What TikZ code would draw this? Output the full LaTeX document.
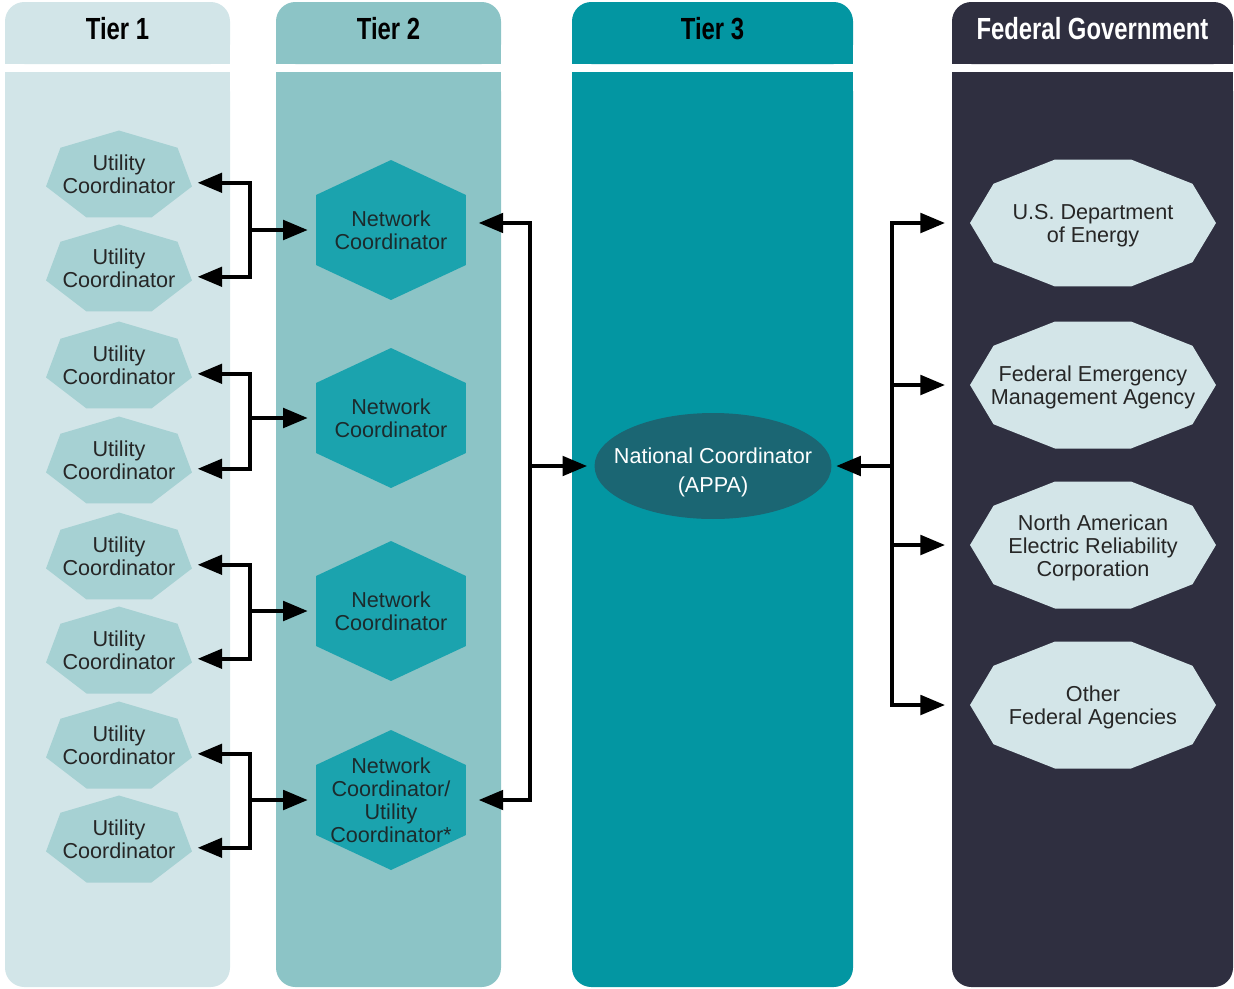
\documentclass[tikz,border=0pt]{standalone}
\usepackage{fontspec}
\setmainfont{Liberation Sans}
\newfontfamily\headfont[FakeStretch=0.78]{Liberation Sans}
\usetikzlibrary{arrows.meta,calc}

\definecolor{tieronebg}{HTML}{D2E5E8}
\definecolor{tiertwobg}{HTML}{8CC4C6}
\definecolor{tierthreebg}{HTML}{0396A2}
\definecolor{fedbg}{HTML}{2F2F40}
\definecolor{utilfill}{HTML}{A6D1D3}
\definecolor{netfill}{HTML}{1BA3AE}
\definecolor{natfill}{HTML}{1B6673}
\definecolor{agencyfill}{HTML}{D3E5E8}
\definecolor{textgrey}{HTML}{262626}
\definecolor{nettext}{HTML}{1B2B2D}

\tikzset{
  colhead/.style={font=\headfont\bfseries\fontsize{17.4}{20}\selectfont, inner sep=0pt},
  unitbox/.style={font=\fontsize{12.3}{13}\selectfont, align=center, inner sep=0pt},
  utility/.style={unitbox, text=textgrey, minimum width=2.92cm, minimum height=1.74cm,
    path picture={\coordinate (pc) at (path picture bounding box.center);
      \fill[utilfill] ($(pc)+(0,0.87cm)$)
        \foreach \k in {1,...,6} { -- ($(pc)+({1.4974cm*cos(90+\k*360/7)},{0.9153cm*(sin(90+\k*360/7)-0.0495)})$) } -- cycle;}},
  network/.style={unitbox, text=nettext, minimum width=3cm, minimum height=2.8cm,
    path picture={\coordinate (pc) at (path picture bounding box.center);
      \fill[netfill] ($(pc)+(0,1.4cm)$)
        \foreach \k in {1,...,5} { -- ($(pc)+({1.7321cm*cos(90+\k*60)},{1.4cm*sin(90+\k*60)})$) } -- cycle;}},
  agency/.style={unitbox, text=textgrey, minimum width=4.92cm, minimum height=2.54cm,
    path picture={\coordinate (pc) at (path picture bounding box.center);
      \fill[agencyfill] ($(pc)+(2.46cm,0)$)
        \foreach \k in {1,...,9} { -- ($(pc)+({2.46cm*cos(\k*36)},{1.3354cm*sin(\k*36)})$) } -- cycle;}},
  national/.style={unitbox, font=\fontsize{12.3}{16.5}\selectfont, text=white, minimum width=4.74cm, minimum height=2.12cm,
    path picture={\fill[natfill] (path picture bounding box.center) ellipse [x radius=2.37cm, y radius=1.06cm];}},
  link/.style={line width=2.3pt, -{Triangle[length=14pt,width=11pt]}},
  twolink/.style={line width=2.3pt, {Triangle[length=14pt,width=11pt]}-{Triangle[length=14pt,width=11pt]}},
}

\begin{document}
\begin{tikzpicture}[x=0.02cm, y=-0.02cm]
  \useasboundingbox (0,0) rectangle (1234,988);
  % Columns
  \foreach \xa/\xb/\col in {5/230/tieronebg, 276/501/tiertwobg, 572/853/tierthreebg, 952/1233/fedbg} {
    \fill[\col, rounded corners=11pt] (\xa,2) rectangle (\xb,64);
    \fill[\col] (\xa,40) rectangle (\xb,64);
    \fill[\col, rounded corners=11pt] (\xa,72) rectangle (\xb,987);
    \fill[\col] (\xa,72) rectangle (\xb,110);
  }
  \node[colhead] (h1) at (117.5,29) {Tier 1};
  \node[colhead] (h2) at (388.5,29) {Tier 2};
  \node[colhead] (h3) at (712.5,29) {Tier 3};
  \node[colhead, text=white] (h4) at (1092.5,29) {Federal Government};

  % Tier 1
  \node[utility] (u1) at (119,174) {Utility\\Coordinator};
  \node[utility] (u2) at (119,268) {Utility\\Coordinator};
  \node[utility] (u3) at (119,365) {Utility\\Coordinator};
  \node[utility] (u4) at (119,460) {Utility\\Coordinator};
  \node[utility] (u5) at (119,556) {Utility\\Coordinator};
  \node[utility] (u6) at (119,650) {Utility\\Coordinator};
  \node[utility] (u7) at (119,745) {Utility\\Coordinator};
  \node[utility] (u8) at (119,839) {Utility\\Coordinator};

  % Tier 2
  \node[network] (n1) at (391,230) {Network\\Coordinator};
  \node[network] (n2) at (391,418) {Network\\Coordinator};
  \node[network] (n3) at (391,611) {Network\\Coordinator};
  \node[network] (n4) at (391,800) {Network\\Coordinator/\\Utility\\Coordinator*};

  % Tier 3
  \node[national] (nat) at (713,466) {\rule{0pt}{16pt}National Coordinator\\(APPA)};

  % Federal
  \node[agency] (f1) at (1093,223) {\rule{0pt}{12pt}U.S. Department\\of Energy};
  \node[agency] (f2) at (1093,385) {\rule{0pt}{12pt}Federal Emergency\\Management Agency};
  \node[agency] (f3) at (1093,545) {\rule{0pt}{12pt}North American\\Electric Reliability\\Corporation};
  \node[agency] (f4) at (1093,705) {\rule{0pt}{12pt}Other\\Federal Agencies};

  % Forks
  \coordinate (j1) at (250,230);
  \coordinate (j2) at (250,418);
  \coordinate (j3) at (250,611);
  \coordinate (j4) at (250,800);
  \coordinate (j5) at (530,466);
  \coordinate (j6) at (892,466);

  \draw[twolink, shorten <=3pt, shorten >=3pt] ([yshift=-5pt]u1.east) -| (j1) |- ([yshift=-5pt]u2.east);
  \draw[twolink, shorten <=3pt, shorten >=3pt] ([yshift=-5pt]u3.east) -| (j2) |- ([yshift=-5pt]u4.east);
  \draw[twolink, shorten <=3pt, shorten >=3pt] ([yshift=-5pt]u5.east) -| (j3) |- ([yshift=-5pt]u6.east);
  \draw[twolink, shorten <=3pt, shorten >=3pt] ([yshift=-5pt]u7.east) -| (j4) |- ([yshift=-5pt]u8.east);
  \draw[link, shorten >=4.5pt] (j1) -- (n1.west);
  \draw[link, shorten >=4.5pt] (j2) -- (n2.west);
  \draw[link, shorten >=4.5pt] (j3) -- (n3.west);
  \draw[link, shorten >=4.5pt] (j4) -- (n4.west);

  \draw[twolink, shorten <=7pt, shorten >=7pt] ([yshift=4pt]n1.east) -| (j5) |- (n4.east);
  \draw[link, shorten >=4pt] (j5) -- (nat.west);

  \draw[link, shorten >=2.5pt] (j6) -- (nat.east);
  \draw[twolink, shorten <=14pt, shorten >=14pt] (f1.west) -| (j6) |- (f4.west);
  \draw[link, shorten >=14pt] (j6 |- f2.west) -- (f2.west);
  \draw[link, shorten >=14pt] (j6 |- f3.west) -- (f3.west);
\end{tikzpicture}
\end{document}
